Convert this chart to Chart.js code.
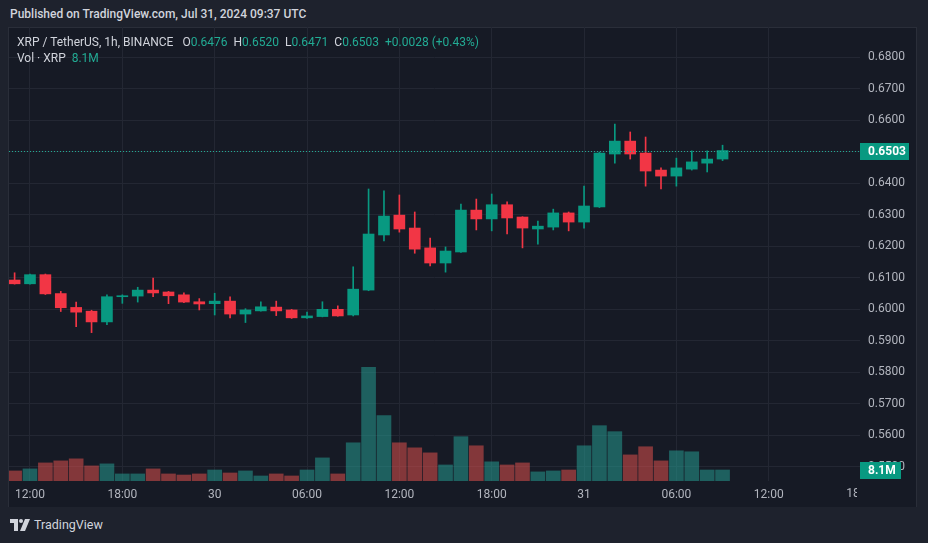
<!DOCTYPE html>
<html>
<head>
<meta charset="utf-8">
<script src="https://cdn.jsdelivr.net/npm/chart.js@4.4.1/dist/chart.umd.min.js"></script>
<style>
  html, body { margin: 0; padding: 0; }
  body {
    width: 928px; height: 543px; overflow: hidden; position: relative;
    background: #1e222d; font-family: Roboto, 'Liberation Sans', Arial, sans-serif;
  }
  .published { position: absolute; left: 10px; top: 7px; font-size: 12px; font-weight: 500; color: #d1d4dc; white-space: nowrap; }
  .panel { position: absolute; left: 8px; top: 27px; width: 909px; height: 480px; background: #161a25; border-top: 1px solid #2a2e39; border-left: 1px solid #2a2e39; border-right: 1px solid #2a2e39; box-sizing: border-box; }
  #chart-wrap { position: absolute; left: 9px; top: 27px; width: 908px; height: 480px; }
  .legend { position: absolute; left: 17px; font-size: 12px; color: #d1d4dc; white-space: nowrap; }
  .legend .v { color: #22ab94; }
  .legend .gap { display: inline-block; width: 3px; }
  .brand { position: absolute; left: 10px; top: 517px; font-size: 12.5px; color: #d1d4dc; display: flex; align-items: center; gap: 4px; }
</style>
</head>
<body>
<div class="published">Published on TradingView.com, Jul 31, 2024 09:37 UTC</div>
<div class="panel"></div>
<div id="chart-wrap"><canvas id="priceChart" width="908" height="480"></canvas></div>
<div class="legend" style="top:35px">XRP / TetherUS, 1h, BINANCE<span class="gap"></span><span class="gap"></span> O<span class="v">0.6476</span><span class="gap"></span> H<span class="v">0.6520</span><span class="gap"></span> L<span class="v">0.6471</span><span class="gap"></span> C<span class="v">0.6503</span><span class="gap"></span> <span class="v">+0.0028 (+0.43%)</span></div>
<div class="legend" style="top:51px">Vol · XRP<span class="gap"></span> <span class="v">8.1M</span></div>
<div class="brand">
  <svg width="20" height="12" viewBox="0 0 20 12">
    <path d="M0 0h8v12H4V4H0z" fill="#d1d4dc"/>
    <circle cx="11" cy="2" r="2" fill="#d1d4dc"/>
    <path d="M15 0h5l-5 12h-5z" fill="#d1d4dc"/>
  </svg>
  <span>TradingView</span>
</div>
<script>
// hour offsets from Jul 29 00:00 UTC (1h candles)
const hours = [11, 12, 13, 14, 15, 16, 17, 18, 19, 20, 21, 22, 23,
  24, 25, 26, 27, 28, 29, 30, 31, 32, 33, 34, 35, 36, 37, 38, 39, 40, 41, 42, 43, 44, 45, 46, 47,
  48, 49, 50, 51, 52, 53, 54, 55, 56, 57];

const open = [0.6092, 0.6080, 0.6109, 0.6049, 0.6005, 0.5993, 0.5959, 0.6039, 0.6041, 0.6060, 0.6054, 0.6045, 0.6023,
  0.6017, 0.6025, 0.5984, 0.5994, 0.6006, 0.5997, 0.5972, 0.5976, 0.5999, 0.5981, 0.6060, 0.6235, 0.6298, 0.6257, 0.6194,
  0.6146, 0.6181, 0.6314, 0.6286, 0.6331, 0.6292, 0.6254, 0.6260, 0.6305,
  0.6276, 0.6324, 0.6492, 0.6533, 0.6495, 0.6441, 0.6422, 0.6444, 0.6463, 0.6476];
const high = [0.6115, 0.6111, 0.6111, 0.6056, 0.6022, 0.5996, 0.6045, 0.6045, 0.6069, 0.6098, 0.6056, 0.6051, 0.6033,
  0.6050, 0.6039, 0.6001, 0.6023, 0.6025, 0.5999, 0.5990, 0.6023, 0.6010, 0.6134, 0.6381, 0.6375, 0.6362, 0.6308, 0.6225,
  0.6197, 0.6333, 0.6349, 0.6365, 0.6340, 0.6293, 0.6279, 0.6317, 0.6308,
  0.6390, 0.6498, 0.6587, 0.6562, 0.6546, 0.6448, 0.6479, 0.6502, 0.6502, 0.6520];
const low = [0.6079, 0.6079, 0.6046, 0.5992, 0.5944, 0.5925, 0.5950, 0.6018, 0.6022, 0.6039, 0.6017, 0.6020, 0.5997,
  0.5981, 0.5972, 0.5957, 0.5993, 0.5979, 0.5970, 0.5970, 0.5975, 0.5977, 0.5978, 0.6058, 0.6216, 0.6244, 0.6177, 0.6137,
  0.6117, 0.6180, 0.6251, 0.6248, 0.6238, 0.6194, 0.6206, 0.6251, 0.6248,
  0.6257, 0.6322, 0.6463, 0.6476, 0.6390, 0.6381, 0.6390, 0.6441, 0.6435, 0.6471];
const close = [0.6080, 0.6109, 0.6048, 0.6004, 0.5990, 0.5959, 0.6039, 0.6041, 0.6060, 0.6051, 0.6042, 0.6022, 0.6016,
  0.6025, 0.5984, 0.5997, 0.6007, 0.5994, 0.5972, 0.5978, 0.5999, 0.5978, 0.6063, 0.6238, 0.6295, 0.6254, 0.6190, 0.6146,
  0.6184, 0.6314, 0.6286, 0.6331, 0.6289, 0.6257, 0.6263, 0.6305, 0.6276,
  0.6327, 0.6495, 0.6533, 0.6492, 0.6438, 0.6422, 0.6448, 0.6467, 0.6476, 0.6503];
// volume in millions of XRP
const volume = [7.4, 8.9, 13.3, 14.8, 16.3, 11.1, 12.6, 5.2, 5.2, 8.9, 5.2, 4.4, 5.2,
  8.1, 5.9, 7.4, 3.7, 5.2, 3.7, 8.1, 17.0, 5.2, 28.1, 83.6, 48.1, 28.1, 24.4, 20.7,
  11.8, 32.6, 25.9, 14.1, 11.8, 13.3, 6.7, 7.4, 8.1,
  25.9, 40.7, 36.3, 19.2, 25.2, 14.8, 22.2, 21.5, 8.1, 8.1];

const priceTicks = [0.55, 0.56, 0.57, 0.58, 0.59, 0.60, 0.61, 0.62, 0.63, 0.64, 0.65, 0.66, 0.67, 0.68];
const timeTicks = [12, 18, 24, 30, 36, 42, 48, 54, 60];
const timeTickLabels = ['12:00', '18:00', '30', '06:00', '12:00', '18:00', '31', '06:00', '12:00'];

const upColor = '#089981';
const downColor = '#f23645';
const upVol = 'rgba(38, 166, 154, 0.5)';
const downVol = 'rgba(239, 83, 80, 0.5)';
const gridColor = '#232733';
const textColor = '#b2b5be';

const isUp = close.map((c, i) => c >= open[i]);

// --- overlay: last price line, scale labels, clipped 18:00 ---
const overlay = {
  id: 'overlay',
  afterDatasetsDraw(chart) {
    const { ctx, chartArea: a, scales: { y } } = chart;
    const last = close.length - 1;
    const py = Math.round(y.getPixelForValue(close[last])) + 0.5;
    ctx.save();
    ctx.strokeStyle = '#22ab94';
    ctx.lineWidth = 1;
    ctx.setLineDash([1, 2]);
    ctx.beginPath();
    ctx.moveTo(a.left, py);
    ctx.lineTo(a.right, py);
    ctx.stroke();
    ctx.restore();
  },
  afterDraw(chart) {
    const { ctx, chartArea: a, scales: { x, y, vol } } = chart;
    const last = close.length - 1;
    ctx.save();
    ctx.font = 'bold 12px Roboto, "Liberation Sans", Arial, sans-serif';
    ctx.textBaseline = 'middle';
    ctx.textAlign = 'left';

    const py = Math.round(y.getPixelForValue(close[last]));
    ctx.fillStyle = upColor;
    ctx.fillRect(a.right, py - 8, 49, 17);
    ctx.fillStyle = '#ffffff';
    ctx.fillText(close[last].toFixed(4), a.right + 8, py + 0.5);

    const vy = Math.round(vol.getPixelForValue(volume[last]));
    ctx.fillStyle = upColor;
    ctx.fillRect(a.right, vy - 8, 41, 17);
    ctx.fillStyle = '#ffffff';
    ctx.fillText(volume[last].toFixed(1) + 'M', a.right + 8, vy + 0.5);

    // time label cut off by the price scale
    ctx.beginPath();
    ctx.rect(0, a.bottom, a.right - 3, 30);
    ctx.clip();
    ctx.font = '12px Roboto, "Liberation Sans", Arial, sans-serif';
    ctx.fillStyle = textColor;
    ctx.textAlign = 'center';
    ctx.textBaseline = 'top';
    ctx.fillText('18:00', x.getPixelForValue(66), a.bottom + 7);
    ctx.restore();
  }
};

new Chart(document.getElementById('priceChart'), {
  type: 'bar',
  data: {
    datasets: [
      {
        label: 'body',
        data: hours.map((h, i) => ({ x: h, y: [open[i], close[i]] })),
        backgroundColor: isUp.map(u => u ? upColor : downColor),
        barThickness: 11,
        minBarLength: 1,
        grouped: false,
        yAxisID: 'y',
        order: 1
      },
      {
        label: 'wick',
        data: hours.map((h, i) => ({ x: h, y: [low[i], high[i]] })),
        backgroundColor: isUp.map(u => u ? upColor : downColor),
        barThickness: 1,
        grouped: false,
        yAxisID: 'y',
        order: 2
      },
      {
        label: 'volume',
        data: hours.map((h, i) => ({ x: h, y: volume[i] })),
        backgroundColor: isUp.map(u => u ? upVol : downVol),
        barThickness: 14,
        grouped: false,
        yAxisID: 'vol',
        order: 3
      }
    ]
  },
  options: {
    responsive: false,
    animation: false,
    layout: { padding: 0 },
    plugins: { legend: { display: false }, tooltip: { enabled: false } },
    scales: {
      x: {
        type: 'linear',
        offset: false,
        min: 10.636,
        max: 65.93,
        afterBuildTicks: axis => { axis.ticks = timeTicks.map(v => ({ value: v })); },
        afterFit: axis => { axis.height = 26; axis.paddingLeft = 0; axis.paddingRight = 0; },
        grid: { color: gridColor, drawTicks: false, offset: false },
        border: { display: false },
        ticks: {
          color: textColor,
          padding: 7,
          maxRotation: 0,
          autoSkip: false,
          font: { family: 'Roboto, "Liberation Sans", Arial, sans-serif', size: 12 },
          callback: (value) => timeTickLabels[timeTicks.indexOf(value)]
        }
      },
      y: {
        position: 'right',
        min: 0.545397,
        max: 0.689524,
        afterBuildTicks: axis => { axis.ticks = priceTicks.map(v => ({ value: v })); },
        afterFit: axis => { axis.width = 57; axis.paddingTop = 0; axis.paddingBottom = 0; },
        grid: { color: gridColor, drawTicks: false },
        border: { display: false },
        ticks: {
          color: textColor,
          padding: 8,
          autoSkip: false,
          font: { family: 'Roboto, "Liberation Sans", Arial, sans-serif', size: 12 },
          callback: (value) => Math.abs(value - 0.65) < 1e-6 ? '' : value.toFixed(4)
        }
      },
      vol: {
        display: false,
        min: 0,
        max: 334
      }
    }
  },
  plugins: [overlay]
});
</script>
</body>
</html>
